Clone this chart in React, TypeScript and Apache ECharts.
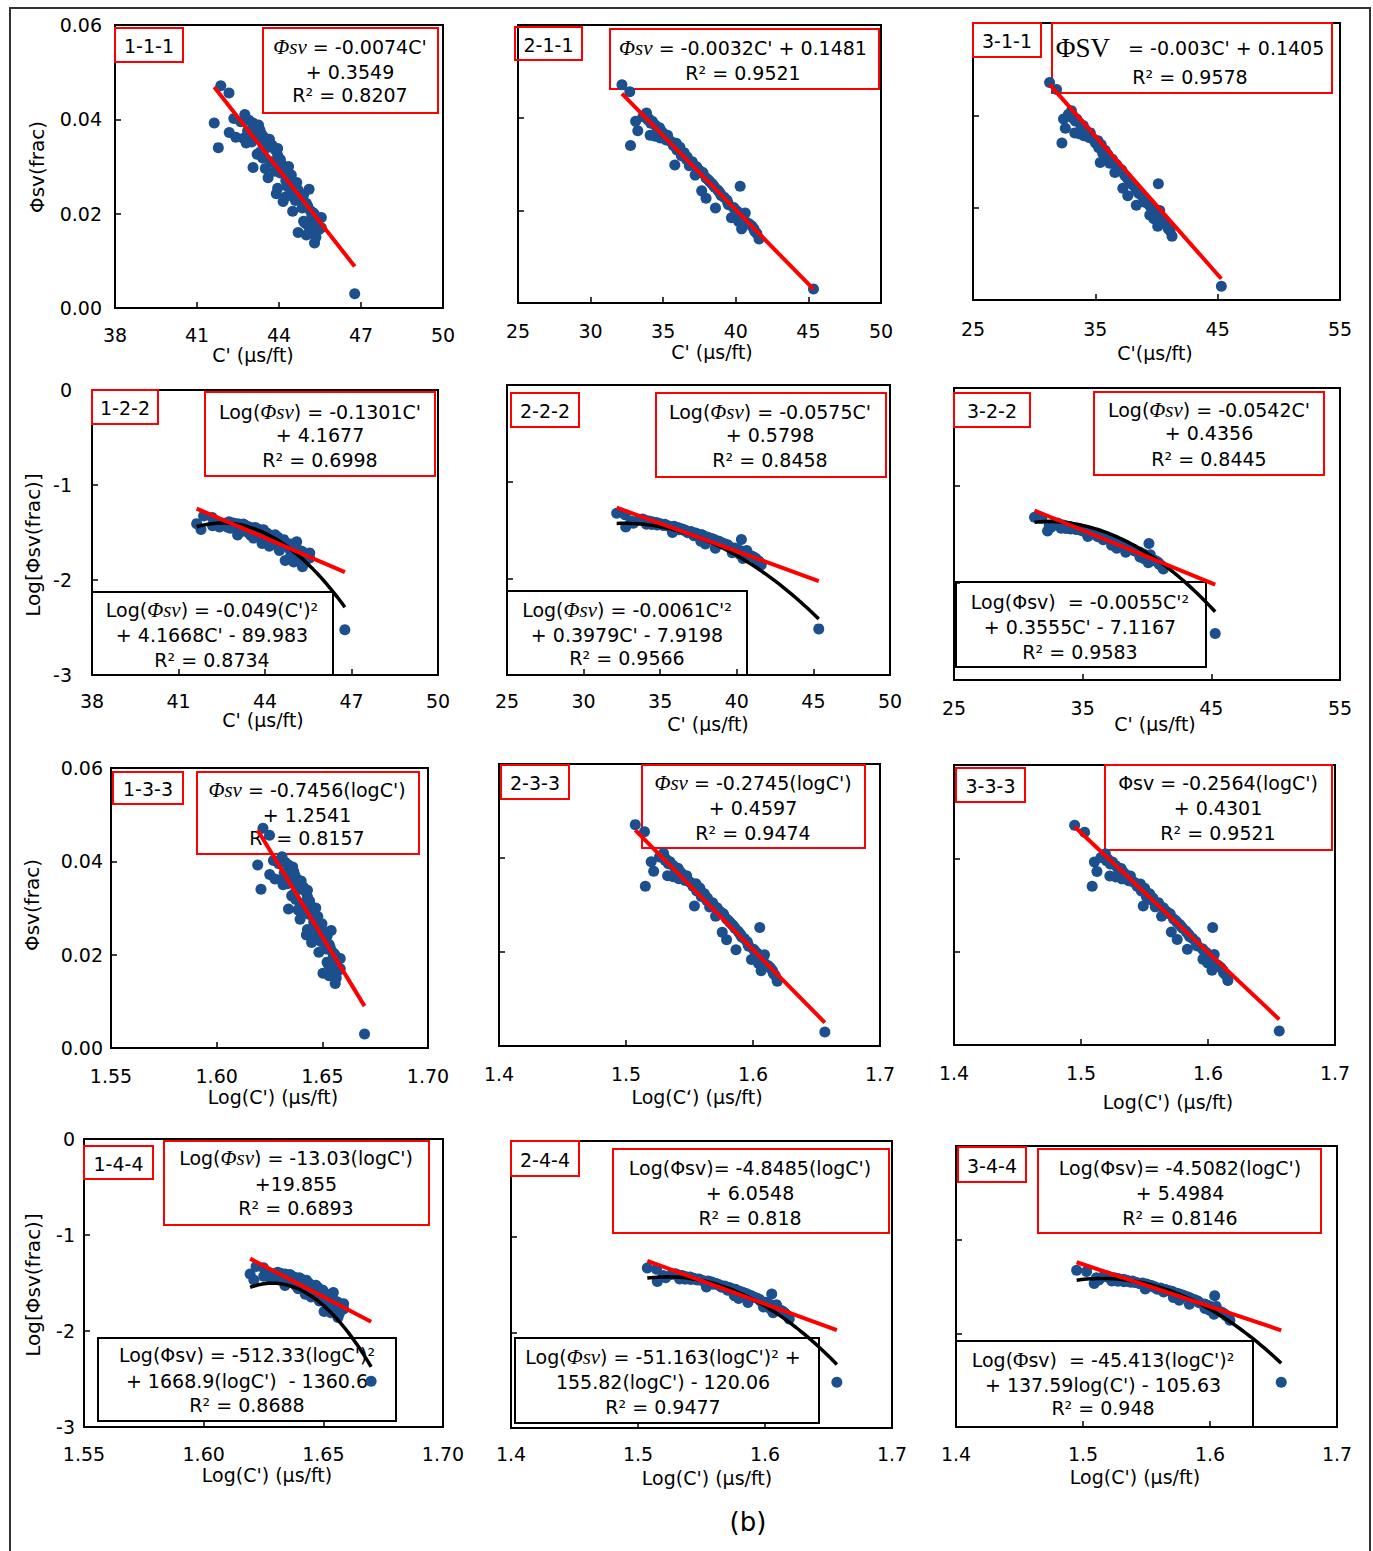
import React, { useEffect, useRef } from "react";
import * as echarts from "echarts";

// ---------------- DATA ----------------
// Shared porosity values (Φsv, fraction)
const PHI = [
  0.0471, 0.0456, 0.0340, 0.0392, 0.0372, 0.0362, 0.0402, 0.0410, 0.0360, 0.0398,
  0.0356, 0.0392, 0.0384, 0.0375, 0.0378, 0.0366, 0.0352, 0.0362, 0.0348, 0.0298,
  0.0340, 0.0345, 0.0330, 0.0336, 0.0318, 0.0324, 0.0310, 0.0296, 0.0305, 0.0276,
  0.0294, 0.0286, 0.0242, 0.0280, 0.0226, 0.0270, 0.0262, 0.0258, 0.0250, 0.0205,
  0.0244, 0.0232, 0.0228, 0.0222, 0.0212, 0.0206, 0.0184, 0.0198, 0.0192, 0.0176,
  0.0252, 0.0160, 0.0186, 0.0194, 0.0172, 0.0166, 0.0160, 0.0150, 0.0138, 0.0030,
  0.0395, 0.0388, 0.0370, 0.0358, 0.0350, 0.0338, 0.0326, 0.0315, 0.0300, 0.0290,
  0.0282, 0.0266, 0.0254, 0.0240, 0.0236, 0.0216, 0.0202, 0.0180, 0.0170, 0.0155,
];
// C' (µs/ft) for method 1
const C_SET1 = [
  41.87, 42.17, 41.78, 41.63, 42.18, 42.42, 42.35, 42.75, 42.70, 42.90,
  42.95, 43.05, 43.10, 42.85, 43.30, 43.20, 43.00, 43.45, 43.40, 43.05,
  43.55, 43.75, 43.30, 43.85, 43.40, 43.95, 43.70, 43.50, 44.10, 43.60,
  44.20, 44.05, 43.90, 44.35, 44.15, 44.25, 44.55, 44.30, 44.70, 44.50,
  44.45, 44.80, 44.60, 45.00, 44.85, 45.15, 44.90, 45.30, 45.55, 45.05,
  45.10, 44.70, 45.40, 45.20, 45.20, 45.45, 45.10, 45.35, 45.30, 46.77,
  42.60, 43.25, 43.35, 43.65, 42.80, 43.95, 43.20, 44.05, 44.35, 43.85,
  44.45, 44.65, 43.95, 44.90, 44.25, 45.05, 45.25, 44.95, 45.55, 45.00,
];
// C' (µs/ft) for method 2
const C_SET2 = [
  32.16, 32.70, 32.75, 33.10, 33.25, 34.10, 33.60, 33.85, 34.45, 34.00,
  34.80, 34.25, 34.45, 34.60, 34.75, 35.00, 35.20, 35.30, 35.55, 35.80,
  35.70, 35.90, 35.95, 36.15, 36.25, 36.45, 36.60, 36.80, 37.00, 37.20,
  37.30, 37.50, 37.65, 37.75, 37.95, 37.95, 38.20, 38.35, 38.55, 38.60,
  38.75, 39.00, 39.20, 39.40, 39.50, 39.85, 39.70, 40.10, 40.30, 40.20,
  40.30, 40.40, 40.55, 40.65, 40.85, 41.10, 41.25, 41.45, 41.60, 45.35,
  33.95, 34.15, 34.90, 35.10, 35.45, 35.85, 36.30, 36.65, 37.05, 37.35,
  37.70, 38.10, 38.45, 38.85, 38.95, 39.45, 39.95, 40.45, 40.95, 41.30,
];
// C' (µs/ft) for method 3
const C_SET3 = [
  31.26, 31.83, 32.27, 32.40, 32.55, 33.32, 32.79, 33.05, 33.69, 33.21,
  34.06, 33.48, 33.69, 33.85, 34.01, 34.27, 34.48, 34.59, 34.85, 35.40,
  35.01, 35.22, 35.28, 35.49, 35.60, 35.81, 35.97, 36.18, 36.39, 36.60,
  36.71, 36.92, 37.25, 37.18, 37.65, 37.40, 37.66, 37.82, 38.03, 38.35,
  38.25, 38.51, 38.72, 38.94, 39.04, 39.41, 39.45, 39.68, 39.89, 39.78,
  40.15, 40.10, 40.16, 40.26, 40.47, 40.74, 40.90, 41.11, 41.27, 45.30,
  33.12, 33.35, 34.15, 34.37, 34.74, 35.16, 35.64, 36.02, 36.44, 36.76,
  37.13, 37.56, 37.92, 38.35, 38.46, 38.99, 39.52, 40.05, 40.57, 40.95,
];

// tick label values
const X_TICKS_C1 = [38, 41, 44, 47, 50];
const X_TICKS_C2 = [25, 30, 35, 40, 45, 50];
const X_TICKS_C3 = [25, 35, 45, 55];
const X_TICKS_LOG1 = [1.55, 1.6, 1.65, 1.7];
const X_TICKS_LOG23 = [1.4, 1.5, 1.6, 1.7];
const Y_TICKS_PHI = [0, 0.02, 0.04, 0.06];
const Y_TICKS_LOG = [-3, -2, -1, 0];

const PANEL_LABELS = [
  "1-1-1", "2-1-1", "3-1-1",
  "1-2-2", "2-2-2", "3-2-2",
  "1-3-3", "2-3-3", "3-3-3",
  "1-4-4", "2-4-4", "3-4-4",
];

// linear fits [slope, intercept] (red)
const LIN_FITS = [
  [-0.0074, 0.3549], [-0.0032, 0.1481], [-0.003, 0.1405],
  [-0.1301, 4.1677], [-0.0575, 0.5798], [-0.0542, 0.4356],
  [-0.7456, 1.2541], [-0.2745, 0.4597], [-0.2564, 0.4301],
  [-13.03, 19.855], [-4.8485, 6.0548], [-4.5082, 5.4984],
];
// quadratic fits [a, b, c] (black)
const QUAD_FITS: (number[] | null)[] = [
  null, null, null,
  [-0.049, 4.1668, -89.983], [-0.0061, 0.3979, -7.9198], [-0.0055, 0.3555, -7.1167],
  null, null, null,
  [-512.33, 1668.9, -1360.6], [-51.163, 155.82, -120.06], [-45.413, 137.59, -105.63],
];

const EQ_RED = [
  ["{p|Φsv} = -0.0074C'", "+ 0.3549", "R² = 0.8207"],
  ["{p|Φsv} = -0.0032C' + 0.1481", "R² = 0.9521"],
  ["{P|ΦSV}   = -0.003C' + 0.1405", "R² = 0.9578"],
  ["Log({p|Φsv}) = -0.1301C'", "+ 4.1677", "R² = 0.6998"],
  ["Log({p|Φsv}) = -0.0575C'", "+ 0.5798", "R² = 0.8458"],
  ["Log({p|Φsv}) = -0.0542C'", "+ 0.4356", "R² = 0.8445"],
  ["{p|Φsv} = -0.7456(logC')", "+ 1.2541", "R² = 0.8157"],
  ["{p|Φsv} = -0.2745(logC')", "+ 0.4597", "R² = 0.9474"],
  ["Φsv = -0.2564(logC')", "+ 0.4301", "R² = 0.9521"],
  ["Log({p|Φsv}) = -13.03(logC')", "+19.855", "R² = 0.6893"],
  ["Log(Φsv)= -4.8485(logC')", "+ 6.0548", "R² = 0.818"],
  ["Log(Φsv)= -4.5082(logC')", "+ 5.4984", "R² = 0.8146"],
];
const EQ_BLACK: (string[] | null)[] = [
  null, null, null,
  ["Log({p|Φsv}) = -0.049(C')²", "+ 4.1668C' - 89.983", "R² = 0.8734"],
  ["Log({p|Φsv}) = -0.0061C'²", "+ 0.3979C' - 7.9198", "R² = 0.9566"],
  ["Log(Φsv)  = -0.0055C'²", "+ 0.3555C' - 7.1167", "R² = 0.9583"],
  null, null, null,
  ["Log(Φsv) = -512.33(logC')²", "+ 1668.9(logC')  - 1360.6", "R² = 0.8688"],
  ["Log({p|Φsv}) = -51.163(logC')² +", "155.82(logC') - 120.06", "R² = 0.9477"],
  ["Log({q|Φ}sv)  = -45.413(logC')²", "+ 137.59log(C') - 105.63", "R² = 0.948"],
];

const X_NAMES = [
  "C' (μs/ft)", "C' (μs/ft)", "C'(μs/ft)",
  "C' (μs/ft)", "C' (μs/ft)", "C' (μs/ft)",
  "Log(C') (μs/ft)", "Log(C‘) (μs/ft)", "Log(C') (μs/ft)",
  "Log(C') (μs/ft)", "Log(C') (μs/ft)", "Log(C') (μs/ft)",
];
const Y_NAMES = ["Φsv(frac)", "Log[Φsv(frac)]", "Φsv(frac)", "Log[Φsv(frac)]"];

// ---------------- LAYOUT ----------------
type Box = { r: number[]; ly: number[]; cx: number };
type Panel = {
  grid: number[]; set: number; logX: boolean; logY: boolean;
  xMin: number; xMax: number; xTicks: number[]; xDec: number; yLab: boolean;
  xMargin: number; yMargin: number; label: number[]; red: Box; black: Box | null;
  xName: number[];
};

const PANELS: Panel[] = [
  { grid: [115, 25, 328, 283], set: 0, logX: false, logY: false, xMin: 38, xMax: 50, xTicks: X_TICKS_C1, xDec: 0, yLab: true, xMargin: 17, yMargin: 13,
    label: [115, 28, 68, 34], red: { r: [263, 28, 175, 85], ly: [47, 72, 95], cx: 350 }, black: null, xName: [253, 355] },
  { grid: [518, 25, 363, 278], set: 1, logX: false, logY: false, xMin: 25, xMax: 50, xTicks: X_TICKS_C2, xDec: 0, yLab: false, xMargin: 18, yMargin: 13,
    label: [515, 27, 67, 33], red: { r: [610, 29, 269, 60], ly: [48, 73], cx: 743 }, black: null, xName: [712, 352] },
  { grid: [973, 23, 367, 277], set: 2, logX: false, logY: false, xMin: 25, xMax: 55, xTicks: X_TICKS_C3, xDec: 0, yLab: false, xMargin: 19, yMargin: 13,
    label: [973, 23, 68, 34], red: { r: [1052, 23, 280, 70], ly: [48, 77], cx: 1190 }, black: null, xName: [1155, 353] },
  { grid: [92, 390, 346, 285], set: 0, logX: false, logY: true, xMin: 38, xMax: 50, xTicks: X_TICKS_C1, xDec: 0, yLab: true, xMargin: 16, yMargin: 20,
    label: [92, 390, 66, 34], red: { r: [205, 392, 230, 84], ly: [412, 435, 460], cx: 320 },
    black: { r: [92, 592, 241, 83], ly: [610, 635, 660], cx: 212 }, xName: [263, 720] },
  { grid: [507, 385, 383, 290], set: 1, logX: false, logY: true, xMin: 25, xMax: 50, xTicks: X_TICKS_C2, xDec: 0, yLab: false, xMargin: 16, yMargin: 13,
    label: [511, 393, 68, 34], red: { r: [656, 393, 230, 84], ly: [412, 435, 460], cx: 770 },
    black: { r: [507, 591, 240, 84], ly: [610, 635, 658], cx: 627 }, xName: [708, 724] },
  { grid: [954, 388, 386, 292], set: 2, logX: false, logY: true, xMin: 25, xMax: 55, xTicks: X_TICKS_C3, xDec: 0, yLab: false, xMargin: 18, yMargin: 13,
    label: [954, 393, 76, 34], red: { r: [1094, 392, 230, 83], ly: [410, 433, 459], cx: 1209 },
    black: { r: [956, 582, 250, 85], ly: [602, 627, 652], cx: 1080 }, xName: [1155, 724] },
  { grid: [111, 768, 317, 280], set: 0, logX: true, logY: false, xMin: 1.55, xMax: 1.7, xTicks: X_TICKS_LOG1, xDec: 2, yLab: true, xMargin: 18, yMargin: 8,
    label: [113, 772, 70, 32], red: { r: [197, 772, 222, 82], ly: [790, 815, 838], cx: 307 }, black: null, xName: [273, 1097] },
  { grid: [499, 764, 381, 282], set: 1, logX: true, logY: false, xMin: 1.4, xMax: 1.7, xTicks: X_TICKS_LOG23, xDec: 1, yLab: false, xMargin: 18, yMargin: 13,
    label: [501, 765, 68, 34], red: { r: [642, 765, 223, 83], ly: [783, 808, 833], cx: 753 }, black: null, xName: [697, 1097] },
  { grid: [954, 765, 381, 280], set: 2, logX: true, logY: false, xMin: 1.4, xMax: 1.7, xTicks: X_TICKS_LOG23, xDec: 1, yLab: false, xMargin: 18, yMargin: 13,
    label: [956, 768, 69, 34], red: { r: [1105, 765, 227, 85], ly: [783, 808, 833], cx: 1218 }, black: null, xName: [1168, 1102] },
  { grid: [84, 1139, 359, 288], set: 0, logX: true, logY: true, xMin: 1.55, xMax: 1.7, xTicks: X_TICKS_LOG1, xDec: 2, yLab: true, xMargin: 17, yMargin: 9,
    label: [84, 1146, 69, 33], red: { r: [164, 1141, 265, 84], ly: [1158, 1184, 1208], cx: 296 },
    black: { r: [98, 1338, 298, 83], ly: [1355, 1381, 1405], cx: 247 }, xName: [267, 1475] },
  { grid: [511, 1141, 381, 287], set: 1, logX: true, logY: true, xMin: 1.4, xMax: 1.7, xTicks: X_TICKS_LOG23, xDec: 1, yLab: false, xMargin: 16, yMargin: 13,
    label: [511, 1141, 68, 35], red: { r: [613, 1149, 276, 84], ly: [1168, 1193, 1218], cx: 750 },
    black: { r: [515, 1338, 304, 85], ly: [1357, 1382, 1407], cx: 663 }, xName: [707, 1478] },
  { grid: [956, 1146, 381, 281], set: 2, logX: true, logY: true, xMin: 1.4, xMax: 1.7, xTicks: X_TICKS_LOG23, xDec: 1, yLab: false, xMargin: 17, yMargin: 13,
    label: [958, 1147, 68, 35], red: { r: [1038, 1149, 283, 84], ly: [1168, 1193, 1218], cx: 1180 },
    black: { r: [956, 1341, 297, 86], ly: [1360, 1385, 1408], cx: 1103 }, xName: [1135, 1477] },
];
const Y_NAME_POS = [[37, 167], [33, 545], [32, 905], [33, 1285]];

const FONT = "DejaVu Sans";
const DOT = "#1b4f8e";
const RED = "#ff0000";

const RICH = {
  p: { fontFamily: "Liberation Serif", fontStyle: "italic", fontSize: 21, fill: "#000" },
  P: { fontFamily: "Liberation Serif", fontSize: 27, fill: "#000" },
  q: { fontFamily: "Liberation Serif", fontSize: 21, fill: "#000" },
};

function textEl(text: string, x: number, y: number, size: number, extra: any = {}) {
  return {
    type: "text",
    x,
    y,
    z: 1,
    silent: true,
    ...extra,
    style: {
      text,
      fill: "#000",
      fontSize: size,
      fontFamily: FONT,
      align: "center",
      verticalAlign: "middle",
      textAlign: "center",
      textVerticalAlign: "middle",
      rich: RICH,
    },
  };
}

function rectEl(r: number[], color: string, w = 2) {
  return {
    type: "rect",
    z: 1,
    silent: true,
    shape: { x: r[0], y: r[1], width: r[2], height: r[3] },
    style: { fill: "none", stroke: color, lineWidth: w },
  };
}

function buildOption() {
  const sets = [C_SET1, C_SET2, C_SET3];
  const grids: any[] = [];
  const xAxes: any[] = [];
  const yAxes: any[] = [];
  const series: any[] = [];
  const graphics: any[] = [];

  PANELS.forEach((p, i) => {
    const cs = sets[p.set];
    const xs = cs.map((c) => (p.logX ? Math.log10(c) : c));
    const ys = PHI.map((v) => (p.logY ? Math.log10(v) : v));
    const xmin = Math.min(...xs);
    const xmax = Math.max(...xs);

    grids.push({
      left: p.grid[0], top: p.grid[1], width: p.grid[2], height: p.grid[3],
      show: true, borderColor: "#000", borderWidth: 2, backgroundColor: "transparent",
    });
    xAxes.push({
      gridIndex: i, type: "value", min: p.xMin, max: p.xMax,
      axisLine: { show: true, onZero: false, lineStyle: { color: "#000", width: 2 } },
      axisTick: { show: true, inside: true, length: 6, customValues: p.xTicks.slice(1, -1), lineStyle: { color: "#000", width: 1.5 } },
      axisLabel: {
        show: true, customValues: p.xTicks, margin: p.xMargin, color: "#000", fontSize: 19, fontFamily: FONT,
        formatter: (v: number) => v.toFixed(p.xDec),
      },
      splitLine: { show: false },
    });
    const yTicks = p.logY ? Y_TICKS_LOG : Y_TICKS_PHI;
    yAxes.push({
      gridIndex: i, type: "value", min: yTicks[0], max: yTicks[yTicks.length - 1],
      axisLine: { show: true, onZero: false, lineStyle: { color: "#000", width: 2 } },
      axisTick: { show: true, inside: true, length: 6, customValues: yTicks.slice(1, -1), lineStyle: { color: "#000", width: 1.5 } },
      axisLabel: {
        show: p.yLab, customValues: yTicks, margin: p.yMargin, color: "#000", fontSize: 19, fontFamily: FONT,
        formatter: (v: number) => (p.logY ? String(Math.round(v)) : v.toFixed(2)),
      },
      splitLine: { show: false },
    });

    series.push({
      type: "scatter", xAxisIndex: i, yAxisIndex: i, symbol: "circle", symbolSize: 11,
      itemStyle: { color: DOT, opacity: 1 }, z: 2, silent: true,
      data: xs.map((x, k) => [x, ys[k]]),
    });
    const q = QUAD_FITS[i];
    if (q) {
      const n = 60;
      const pts: number[][] = [];
      for (let k = 0; k <= n; k++) {
        const x = xmin + ((xmax - xmin) * k) / n;
        pts.push([x, q[0] * x * x + q[1] * x + q[2]]);
      }
      series.push({
        type: "line", xAxisIndex: i, yAxisIndex: i, showSymbol: false, silent: true, z: 3,
        lineStyle: { color: "#000", width: 3.5 }, data: pts,
      });
    }
    const lf = LIN_FITS[i];
    series.push({
      type: "line", xAxisIndex: i, yAxisIndex: i, showSymbol: false, silent: true, z: 4,
      lineStyle: { color: RED, width: 4 },
      data: [[xmin, lf[0] * xmin + lf[1]], [xmax, lf[0] * xmax + lf[1]]],
    });

    // label box
    graphics.push(rectEl(p.label, RED));
    graphics.push(textEl(PANEL_LABELS[i], p.label[0] + p.label[2] / 2, p.label[1] + p.label[3] / 2 + 1, 19));
    // red equation box
    graphics.push(rectEl(p.red.r, RED));
    EQ_RED[i].forEach((t, k) => graphics.push(textEl(t, p.red.cx, p.red.ly[k], 19)));
    // black equation box
    const eb = EQ_BLACK[i];
    if (p.black && eb) {
      graphics.push(rectEl(p.black.r, "#000"));
      eb.forEach((t, k) => graphics.push(textEl(t, p.black!.cx, p.black!.ly[k], 19)));
    }
    // x axis name
    graphics.push(textEl(X_NAMES[i], p.xName[0], p.xName[1], 19));
  });

  Y_NAMES.forEach((t, k) => {
    graphics.push(textEl(t, Y_NAME_POS[k][0], Y_NAME_POS[k][1], 20, { rotation: Math.PI / 2 }));
  });
  graphics.push(textEl("(b)", 748, 1522, 26));
  graphics.push({
    type: "rect", z: 0, silent: true,
    shape: { x: 10, y: 8, width: 1360, height: 1570 },
    style: { fill: "none", stroke: "#333", lineWidth: 2 },
  });

  return {
    animation: false,
    backgroundColor: "#fff",
    grid: grids,
    xAxis: xAxes,
    yAxis: yAxes,
    series,
    graphic: { elements: graphics },
  };
}

export default function App() {
  const ref = useRef<HTMLDivElement>(null);
  useEffect(() => {
    document.body.style.margin = "0";
    const chart = echarts.init(ref.current as HTMLDivElement, null, { renderer: "svg" });
    chart.setOption(buildOption() as any);
    return () => chart.dispose();
  }, []);
  return <div ref={ref} style={{ width: 1373, height: 1551 }} />;
}
